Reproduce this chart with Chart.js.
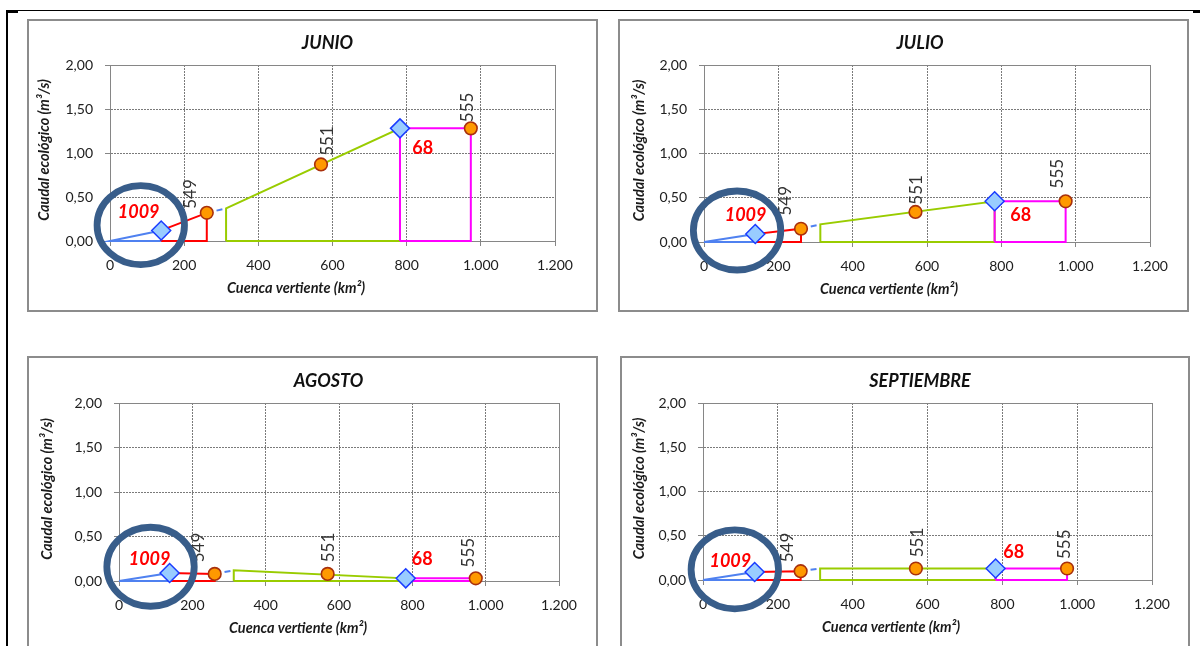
<!DOCTYPE html>
<html lang="es">
<head>
<meta charset="utf-8">
<title>Caudal ecológico – junio a septiembre</title>
<script src="https://cdn.jsdelivr.net/npm/chart.js@4.4.1/dist/chart.umd.min.js"></script>
<style>
  html, body { margin: 0; padding: 0; background: #fff; }
  body { width: 1200px; height: 646px; overflow: hidden; position: relative; }
  .rule { position: absolute; background: #000; }
  .panel { position: absolute; }
  .panel canvas { position: absolute; left: 0; top: 0; }
  .panel .edge { position: absolute; left: 0; top: 0; right: 0; bottom: 0;
                 border: 2px solid #8c8c8c; box-sizing: border-box; pointer-events: none; }
</style>
</head>
<body>
<div class="rule" style="left:6px;top:10px;width:1194px;height:1px"></div>
<div class="rule" style="left:6px;top:10px;width:12px;height:3px"></div>
<div class="rule" style="left:1193px;top:10px;width:7px;height:3px"></div>
<div class="rule" style="left:6px;top:10px;width:2px;height:636px"></div>
<div id="sheet"></div>

<script>
// ---- data -------------------------------------------------------------
const months = ['JUNIO', 'JULIO', 'AGOSTO', 'SEPTIEMBRE'];

// Cuenca vertiente (km²) along the river:
// station 1009, station 549, confluence, station 551, station 68, station 555
const cuencaKm2 = [138, 261, 313, 569, 782, 973];

// Caudal ecológico (m³/s) at those same points, one list per month
const qJunio      = [0.12, 0.32, 0.37, 0.87, 1.28, 1.28];
const qJulio      = [0.09, 0.15, 0.20, 0.34, 0.46, 0.46];
const qAgosto     = [0.09, 0.08, 0.12, 0.08, 0.03, 0.03];
const qSeptiembre = [0.09, 0.10, 0.13, 0.13, 0.13, 0.13];
const monthFlows  = [qJunio, qJulio, qAgosto, qSeptiembre];

const diamondLabels = ['1009', '68'];        // gauges at points 0 and 4
const circleLabels  = ['549', '551', '555']; // gauges at points 1, 3 and 5

const xTickLabels = ['0', '200', '400', '600', '800', '1.000', '1.200'];
const yTickLabels = ['0,00', '0,50', '1,00', '1,50', '2,00'];

const xTitle = 'Cuenca vertiente (km²)';
const yTitle = 'Caudal ecológico (m³/s)';

// Highlight ring around the head of the basin (data coordinates)
const ringCentres = [[83, 0.18], [89, 0.13], [86, 0.16], [85, 0.12]];

// ---- page layout --------------------------------------------------------
const FONT = "Lato, 'Liberation Sans', sans-serif";
const Y_AXIS_W = 50, X_AXIS_H = 30;

const layout = [
  { box: {x: 27,  y: 19,  w: 571, h: 293}, plot: {l: 110, t: 65,  r: 555,  b: 241},
    titleDx: -5, xTitleDx: 186, yTitleDx: -66,
    dOff: [[-22.5, -18.7], [22.7, 19.6]],
    cOff: [[-16.4, -18.8], [6.5, -23.4], [-3.5, -21]] },
  { box: {x: 618, y: 19,  w: 571, h: 293}, plot: {l: 704, t: 65,  r: 1150, b: 242},
    titleDx: -7, xTitleDx: 185, yTitleDx: -65,
    dOff: [[-9.7, -19], [26, 13.7]],
    cOff: [[-15, -28], [1.5, -22], [-8, -27.6]] },
  { box: {x: 27,  y: 356, w: 571, h: 320}, plot: {l: 119, t: 403, r: 559,  b: 581},
    titleDx: -10.5, xTitleDx: 179, yTitleDx: -72,
    dOff: [[-20, -13.7], [16.4, -19]],
    cOff: [[-15.7, -26.4], [1, -26.4], [-7.6, -25.7]] },
  { box: {x: 620, y: 356, w: 570, h: 320}, plot: {l: 703, t: 403, r: 1152, b: 580},
    titleDx: -7.5, xTitleDx: 188, yTitleDx: -64,
    dOff: [[-24.3, -11.3], [18.2, -16.2]],
    cOff: [[-13, -23.7], [1.3, -26], [-2.7, -24.3]] }
];

// ---- colours -----------------------------------------------------------
const C = {
  blue: '#4f81f0', red: '#ff0000', green: '#99cc00', magenta: '#ff00ff',
  diamondFill: '#99ccff', diamondEdge: '#1a3cff',
  circleFill: '#ff9900', circleEdge: '#a8300c',
  axis: '#868686', grid: '#7a7a7a', ring: '#385d8a',
  text: '#202020', label: '#333333', note: '#ff0000'
};

function pt(x, y) { return {x, y}; }

function buildDatasets(q) {
  const X = cuencaKm2;
  const line = (data, color, extra) => Object.assign({
    data, showLine: true, borderColor: color, borderWidth: 2, pointRadius: 0,
    tension: 0, fill: false, borderJoinStyle: 'miter', borderCapStyle: 'butt', clip: false
  }, extra || {});
  return [
    { data: [pt(X[1], q[1]), pt(X[3], q[3]), pt(X[5], q[5])], showLine: false,
      pointStyle: 'circle', pointRadius: 6.3, pointBackgroundColor: C.circleFill,
      pointBorderColor: C.circleEdge, pointBorderWidth: 1.6, clip: false, order: 0 },
    { data: [pt(X[0], q[0]), pt(X[4], q[4])], showLine: false,
      pointStyle: 'rectRot', pointRadius: 9.5, pointBackgroundColor: C.diamondFill,
      pointBorderColor: C.diamondEdge, pointBorderWidth: 1.5, clip: false, order: 1 },
    line([pt(X[4], 0), pt(X[4], q[4]), pt(X[5], q[5]), pt(X[5], 0), pt(X[4], 0)], C.magenta, {order: 2}),
    line([pt(X[2], 0), pt(X[2], q[2]), pt(X[4], q[4]), pt(X[4], 0), pt(X[2], 0)], C.green, {order: 3}),
    line([pt(X[1], q[1]), pt(X[2], q[2])], C.blue, {borderDash: [6, 4], order: 4}),
    line([pt(X[0], 0), pt(X[0], q[0]), pt(X[1], q[1]), pt(X[1], 0), pt(X[0], 0)], C.red, {order: 5}),
    line([pt(X[0], 0), pt(0, 0), pt(X[0], q[0])], C.blue, {order: 6})
  ];
}

// Frame, titles, gauge numbers and the highlight ring
const decor = {
  id: 'decor',
  beforeDatasetsDraw(chart) {
    const {ctx, chartArea: a} = chart;
    const l = Math.round(a.left) + 0.5, t = Math.round(a.top) + 0.5;
    const r = Math.round(a.right) + 0.5, b = Math.round(a.bottom) + 0.5;
    ctx.save();
    ctx.strokeStyle = C.axis; ctx.lineWidth = 1;
    ctx.beginPath(); ctx.moveTo(l, t); ctx.lineTo(r, t); ctx.lineTo(r, b); ctx.stroke();
    ctx.restore();
  },
  afterDatasetsDraw(chart, args, o) {
    const {ctx, scales: {x, y}} = chart;
    const X = cuencaKm2, q = o.q;
    ctx.save();
    // station numbers above the orange gauges, set vertically
    ctx.fillStyle = C.label;
    ctx.font = '17px ' + FONT;
    ctx.textAlign = 'center'; ctx.textBaseline = 'middle';
    [1, 3, 5].forEach((k, i) => {
      const px = x.getPixelForValue(X[k]) + o.cOff[i][0];
      const py = y.getPixelForValue(q[k]) + o.cOff[i][1];
      ctx.save(); ctx.translate(px, py); ctx.rotate(-Math.PI / 2);
      ctx.fillText(circleLabels[i], 0, 0); ctx.restore();
    });
    // red station numbers beside the blue gauges
    ctx.fillStyle = C.note;
    [0, 4].forEach((k, i) => {
      ctx.font = (i === 0 ? 'italic bold 18px ' : 'bold 18px ') + FONT;
      ctx.fillText(diamondLabels[i],
        x.getPixelForValue(X[k]) + o.dOff[i][0],
        y.getPixelForValue(q[k]) + o.dOff[i][1]);
    });
    ctx.restore();
  },
  afterDraw(chart, args, o) {
    const {ctx, chartArea: a, scales: {x, y}} = chart;
    ctx.save();
    ctx.fillStyle = '#111';
    ctx.textAlign = 'center'; ctx.textBaseline = 'middle';
    ctx.font = 'italic bold 18px ' + FONT;
    ctx.fillText(o.title, (a.left + a.right) / 2 + o.titleDx, a.top - 21.5);
    ctx.fillStyle = '#1a1a1a';
    ctx.font = 'italic bold 14.5px ' + FONT;
    ctx.fillText(xTitle, a.left + o.xTitleDx, a.bottom + 47.5);
    ctx.save();
    ctx.translate(a.left + o.yTitleDx, (a.top + a.bottom) / 2 - 3);
    ctx.rotate(-Math.PI / 2);
    ctx.fillText(yTitle, 0, 0);
    ctx.restore();
    // highlight ring
    ctx.strokeStyle = C.ring; ctx.lineWidth = 6.8;
    ctx.beginPath();
    ctx.ellipse(x.getPixelForValue(o.ring[0]), y.getPixelForValue(o.ring[1]), 43.7, 39.5, 0, 0, Math.PI * 2);
    ctx.stroke();
    ctx.restore();
  }
};

const sheet = document.getElementById('sheet');

months.forEach((month, m) => {
  const L = layout[m];
  const div = document.createElement('div');
  div.className = 'panel';
  div.style.cssText = `left:${L.box.x}px;top:${L.box.y}px;width:${L.box.w}px;height:${L.box.h}px`;
  const cv = document.createElement('canvas');
  cv.width = L.box.w; cv.height = L.box.h;
  cv.style.width = L.box.w + 'px'; cv.style.height = L.box.h + 'px';
  const edge = document.createElement('div');
  edge.className = 'edge';
  div.appendChild(cv); div.appendChild(edge);
  sheet.appendChild(div);

  const tickFont = {family: FONT, size: 14};
  new Chart(cv.getContext('2d'), {
    type: 'scatter',
    data: {datasets: buildDatasets(monthFlows[m])},
    options: {
      responsive: false, animation: false, devicePixelRatio: 1, events: [],
      layout: {padding: {
        left: L.plot.l - L.box.x - Y_AXIS_W,
        top: L.plot.t - L.box.y,
        right: L.box.x + L.box.w - L.plot.r,
        bottom: L.box.y + L.box.h - L.plot.b - X_AXIS_H
      }},
      plugins: {
        legend: {display: false}, tooltip: {enabled: false}, title: {display: false},
        decor: {title: month, q: monthFlows[m], ring: ringCentres[m],
                titleDx: L.titleDx, xTitleDx: L.xTitleDx, yTitleDx: L.yTitleDx,
                dOff: L.dOff, cOff: L.cOff}
      },
      scales: {
        x: {
          type: 'linear', min: 0, max: 1200,
          ticks: {stepSize: 200, autoSkip: false, maxRotation: 0, padding: 11,
                  color: C.text, font: tickFont,
                  callback: (v, i) => xTickLabels[i]},
          grid: {color: C.grid, lineWidth: 1, tickColor: C.axis, tickLength: 5},
          border: {display: true, color: C.axis, width: 1, dash: [2, 1]},
          afterFit: s => { s.height = X_AXIS_H; }
        },
        y: {
          type: 'linear', min: 0, max: 2,
          ticks: {stepSize: 0.5, padding: 12, color: C.text, font: tickFont,
                  callback: (v, i) => yTickLabels[i]},
          grid: {color: C.grid, lineWidth: 1, tickColor: C.axis, tickLength: 5},
          border: {display: true, color: C.axis, width: 1, dash: [2, 1]},
          afterFit: s => { s.width = Y_AXIS_W; }
        }
      }
    },
    plugins: [decor]
  });
});
</script>
</body>
</html>
